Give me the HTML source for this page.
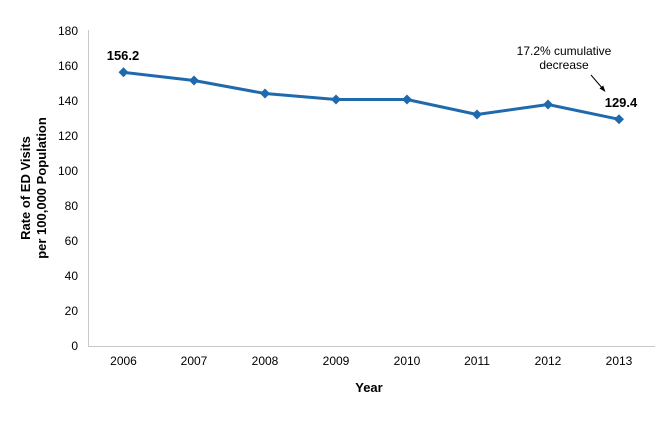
<!DOCTYPE html>
<html><head><meta charset="utf-8"><style>
html,body{margin:0;padding:0;background:#fff;width:666px;height:427px;overflow:hidden}
svg text{font-family:"Liberation Sans",Arial,sans-serif;fill:#000}
</style></head><body>
<svg width="666" height="427" viewBox="0 0 666 427" xmlns="http://www.w3.org/2000/svg">
<line x1="88.5" y1="30" x2="88.5" y2="346" stroke="#c8c8c8" stroke-width="1"/>
<line x1="88" y1="346.5" x2="655" y2="346.5" stroke="#c8c8c8" stroke-width="1"/>
<g font-size="12" text-anchor="end">
<text x="78" y="350">0</text>
<text x="78" y="315">20</text>
<text x="78" y="280">40</text>
<text x="78" y="245">60</text>
<text x="78" y="210">80</text>
<text x="78" y="175">100</text>
<text x="78" y="140">120</text>
<text x="78" y="105">140</text>
<text x="78" y="70">160</text>
<text x="78" y="35">180</text>
</g>
<g font-size="12" text-anchor="middle">
<text x="123.5" y="365">2006</text>
<text x="194" y="365">2007</text>
<text x="265" y="365">2008</text>
<text x="336" y="365">2009</text>
<text x="407" y="365">2010</text>
<text x="477" y="365">2011</text>
<text x="548" y="365">2012</text>
<text x="619" y="365">2013</text>
</g>
<text x="369" y="392" font-size="13" font-weight="bold" text-anchor="middle">Year</text>
<g font-size="13" font-weight="bold" text-anchor="middle">
<text transform="translate(30,188) rotate(-90)">Rate of ED Visits</text>
<text transform="translate(46,188) rotate(-90)">per 100,000  Population</text>
</g>
<polyline fill="none" stroke="#1f6aad" stroke-width="3" stroke-linejoin="round"
points="123.5,72.3 194,80.5 265,93.5 336,99.5 407,99.5 477,114.5 548,104.5 619,119.3"/>
<g fill="#1f6aad">
<path d="M123.5,67.3l5,5-5,5-5-5z"/>
<path d="M194,75.5l5,5-5,5-5-5z"/>
<path d="M265,88.5l5,5-5,5-5-5z"/>
<path d="M336,94.5l5,5-5,5-5-5z"/>
<path d="M407,94.5l5,5-5,5-5-5z"/>
<path d="M477,109.5l5,5-5,5-5-5z"/>
<path d="M548,99.5l5,5-5,5-5-5z"/>
<path d="M619,114.3l5,5-5,5-5-5z"/>
</g>
<text x="123" y="60" font-size="13" font-weight="bold" text-anchor="middle">156.2</text>
<text x="621" y="107" font-size="13" font-weight="bold" text-anchor="middle">129.4</text>
<text x="564" y="55" font-size="12" text-anchor="middle">17.2% cumulative</text>
<text x="564" y="69" font-size="12" text-anchor="middle">decrease</text>
<line x1="591" y1="75" x2="603" y2="89" stroke="#000" stroke-width="1"/>
<path d="M605.5,92l-6-3.5 3.7-3z" fill="#000"/>
</svg>
</body></html>
